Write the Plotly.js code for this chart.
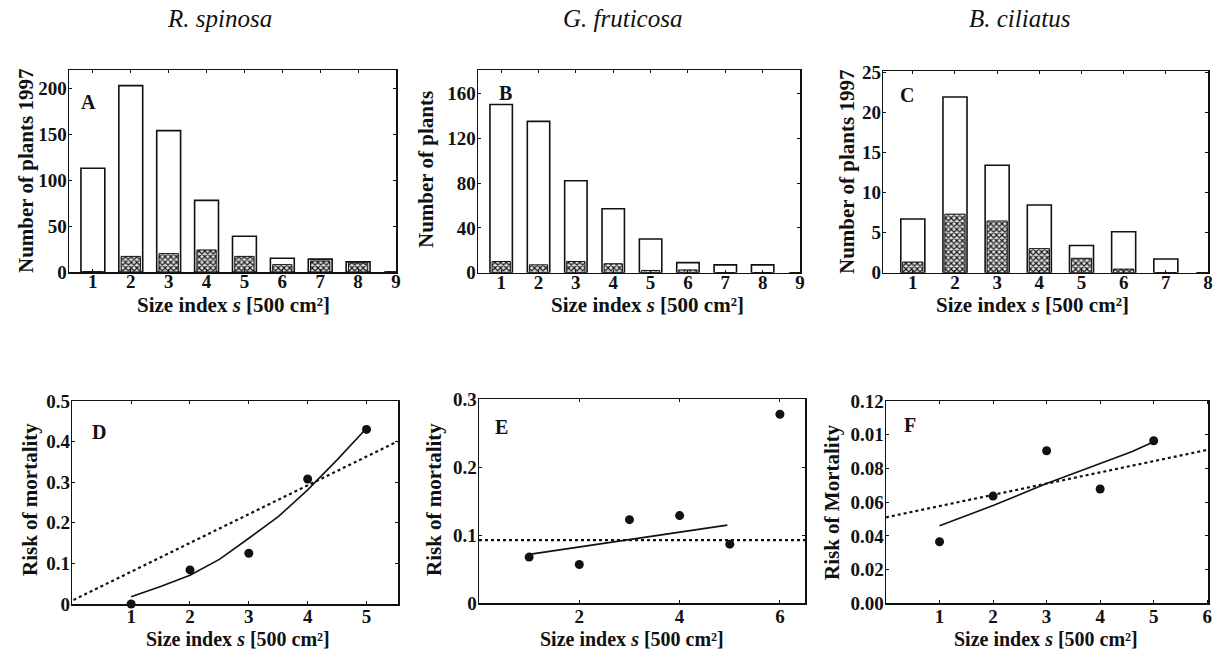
<!DOCTYPE html>
<html>
<head>
<meta charset="utf-8">
<script src="https://cdn.plot.ly/plotly-3.0.1.min.js"></script>
<style>html,body{margin:0;padding:0;background:#fff;} #chart{width:1221px;height:652px;}</style>
</head>
<body>
<div id="chart"></div>
<script>
// ---- Data ----
const sizeA = [1, 2, 3, 4, 5, 6, 7, 8, 9];
const totalA = [113, 203, 154, 78, 39, 15, 14, 11, 0];
const deadA = [0, 17, 20, 24, 17, 8, 12, 10, 0];

const sizeB = [1, 2, 3, 4, 5, 6, 7, 8, 9];
const totalB = [150, 135, 82, 57, 30, 9, 7, 7, 0];
const deadB = [10, 7, 10, 8, 2, 2.5, 0, 0, 0];

const sizeC = [1, 2, 3, 4, 5, 6, 7, 8];
const totalC = [6.7, 21.9, 13.4, 8.45, 3.4, 5.1, 1.7, 0];
const deadC = [1.33, 7.3, 6.45, 3.0, 1.8, 0.45, 0, 0];

const sizeD = [1, 2, 3, 4, 5];
const riskD = [0, 0.084, 0.125, 0.308, 0.43];
const fitDx = [1, 1.5, 2, 2.5, 3, 3.5, 4, 4.5, 5];
const fitDy = [0.018, 0.043, 0.071, 0.110, 0.162, 0.215, 0.281, 0.355, 0.433];
const linDx = [0.02, 5.52];
const linDy = [0.01, 0.40];

const sizeE = [1, 2, 3, 4, 5, 6];
const riskE = [0.068, 0.057, 0.123, 0.129, 0.087, 0.278];
const fitEx = [1, 4.95];
const fitEy = [0.072, 0.115];
const meanEx = [0, 6.5];
const meanEy = [0.093, 0.093];

const sizeF = [1, 2, 3, 4, 5];
const riskF = [0.0365, 0.0636, 0.0905, 0.0678, 0.0964];
const fitFx = [1, 2, 3, 4, 4.6, 5];
const fitFy = [0.046, 0.058, 0.071, 0.083, 0.090, 0.0958];
const linFx = [0, 6];
const linFy = [0.051, 0.091];

// tick labels
const xTicksAB = [1, 2, 3, 4, 5, 6, 7, 8, 9];
const xTicksC = [1, 2, 3, 4, 5, 6, 7, 8];
const xTicksD = [1, 2, 3, 4, 5];
const xTicksE = [2, 4, 6];
const xTicksF = [1, 2, 3, 4, 5, 6];
const yTicksA = [0, 50, 100, 150, 200];
const yTicksB = [0, 40, 80, 120, 160];
const yTicksC = [0, 5, 10, 15, 20, 25];
const yTicksD = [0, 0.1, 0.2, 0.3, 0.4, 0.5];
const yTicksE = [0, 0.1, 0.2, 0.3];
const yTicksF = [0, 0.02, 0.04, 0.06, 0.08, 0.10, 0.12];
const yTickTextF = ['0.00', '0.02', '0.04', '0.06', '0.08', '0.01', '0.12'];

const speciesTitles = ['R. spinosa', 'G. fruticosa', 'B. ciliatus'];
const panelLetters = ['A', 'B', 'C', 'D', 'E', 'F'];
const yTitles = ['Number of plants 1997', 'Number of plants', 'Number of plants 1997',
                 'Risk of mortality', 'Risk of mortality', 'Risk of Mortality'];
const xTitle = 'Size index <i>s</i> [500 cm²]';

// ---- Styling ----
const FONT = 'Liberation Serif, Times New Roman, serif';
const tickFont = {family: FONT, size: 19, color: '#111', weight: 'bold'};
const titleFont = {family: FONT, size: 21, color: '#111', weight: 'bold'};
const titleFontBottom = {family: FONT, size: 20, color: '#111', weight: 'bold'};

function openBar(x, y, xa, ya, w) {
  return {type: 'bar', x: x, y: y, xaxis: xa, yaxis: ya, width: w,
    marker: {color: 'white', line: {color: '#111', width: 1.6}},
    showlegend: false, hoverinfo: 'x+y'};
}
function deadBar(x, y, xa, ya, w) {
  return {type: 'bar', x: x, y: y, xaxis: xa, yaxis: ya, width: w,
    marker: {color: '#cfcfcf', line: {color: '#111', width: 1},
      pattern: {shape: 'x', size: 4, solidity: 0.5, fgcolor: '#1a1a1a', bgcolor: '#e0e0e0'}},
    showlegend: false, hoverinfo: 'x+y'};
}
function pts(x, y, xa, ya) {
  return {type: 'scatter', mode: 'markers', x: x, y: y, xaxis: xa, yaxis: ya,
    marker: {color: '#111', size: 9}, showlegend: false, cliponaxis: false};
}
function line(x, y, xa, ya, dash, w) {
  return {type: 'scatter', mode: 'lines', x: x, y: y, xaxis: xa, yaxis: ya,
    line: {color: '#111', width: w, dash: dash}, showlegend: false};
}

const data = [
  openBar(sizeA, totalA, 'x', 'y', 0.63), deadBar(sizeA, deadA, 'x', 'y', 0.51),
  openBar(sizeB, totalB, 'x2', 'y2', 0.6), deadBar(sizeB, deadB, 'x2', 'y2', 0.49),
  openBar(sizeC, totalC, 'x3', 'y3', 0.57), deadBar(sizeC, deadC, 'x3', 'y3', 0.48),
  line(linDx, linDy, 'x4', 'y4', 'dot', 2.2), line(fitDx, fitDy, 'x4', 'y4', 'solid', 1.6), pts(sizeD, riskD, 'x4', 'y4'),
  line(meanEx, meanEy, 'x5', 'y5', 'dot', 2.2), line(fitEx, fitEy, 'x5', 'y5', 'solid', 1.6), pts(sizeE, riskE, 'x5', 'y5'),
  line(linFx, linFy, 'x6', 'y6', 'dot', 2.2), line(fitFx, fitFy, 'x6', 'y6', 'solid', 1.6), pts(sizeF, riskF, 'x6', 'y6')
];

function ax(dom, range, ticks, anchor, standoff, ticktext) {
  const a = {domain: dom, range: range, anchor: anchor,
    tickmode: 'array', tickvals: ticks,
    showline: true, linecolor: '#111', linewidth: 1.5, mirror: 'ticks',
    ticks: 'inside', ticklen: 3, tickcolor: '#111', showgrid: false, zeroline: false,
    tickfont: tickFont, fixedrange: true, ticklabelstandoff: standoff};
  if (ticktext) a.ticktext = ticktext;
  return a;
}

const W = 1221, H = 652;
const px = (a, b) => [a / W, b / W];
const py = (top, bottom) => [1 - bottom / H, 1 - top / H];

const TOPX = -8, BOTX = -5, YS = -3;
const layout = {
  width: W, height: H,
  margin: {l: 0, r: 0, t: 0, b: 0},
  paper_bgcolor: 'white', plot_bgcolor: 'white',
  barmode: 'overlay', bargap: 0,
  font: {family: FONT, color: '#111'},
  xaxis: ax(px(69, 396), [0.37, 9], xTicksAB, 'y', TOPX),
  yaxis: ax(py(70, 272), [0, 220], yTicksA, 'x', YS),
  xaxis2: ax(px(478, 800), [0.38, 9], xTicksAB, 'y2', TOPX),
  yaxis2: ax(py(70, 272.7), [0, 180.8], yTicksB, 'x2', YS),
  xaxis3: ax(px(883.3, 1208), [0.3, 8], xTicksC, 'y3', TOPX),
  yaxis3: ax(py(71, 272.7), [0, 25.15], yTicksC, 'x3', YS),
  xaxis4: ax(px(72.3, 398.3), [0, 5.54], xTicksD, 'y4', BOTX),
  yaxis4: ax(py(401, 604), [0, 0.5], yTicksD, 'x4', YS),
  xaxis5: ax(px(479, 805), [0, 6.5], xTicksE, 'y5', BOTX),
  yaxis5: ax(py(399.3, 603.3), [0, 0.3], yTicksE, 'x5', YS),
  xaxis6: ax(px(886, 1208.3), [0, 6.02], xTicksF, 'y6', BOTX),
  yaxis6: ax(py(401, 603.3), [0, 0.12], yTicksF, 'x6', YS, yTickTextF),
  annotations: []
};

function note(text, x, y, font, extra) {
  layout.annotations.push(Object.assign({text: text, xref: 'paper', yref: 'paper',
    x: x / W, y: 1 - y / H, xanchor: 'center', yanchor: 'middle', showarrow: false, font: font}, extra || {}));
}

// species titles
const titleX = [219, 622, 1019];
speciesTitles.forEach((t, i) => note('<i>' + t + '</i>', titleX[i], 19, {family: FONT, size: 25, color: '#111'}));

// axis titles
const xTitlePosTop = [[233, 305], [647, 305], [1032, 305]];
xTitlePosTop.forEach(p => note(xTitle, p[0], p[1], titleFont));
const xTitlePosBottom = [[238, 638.5], [632, 638.5], [1046, 638.5]];
xTitlePosBottom.forEach(p => note(xTitle, p[0], p[1], titleFontBottom));
const yTitlePos = [[26, 171], [426, 170], [847, 172], [30, 500], [434, 500], [832, 502]];
yTitles.forEach((t, i) => note(t, yTitlePos[i][0], yTitlePos[i][1], titleFont, {textangle: -90}));

// panel letters
const letterPos = [[88, 101.7], [505, 92.7], [906.7, 95], [99, 431.7], [501.7, 426.7], [910, 425]];
panelLetters.forEach((t, i) => note(t, letterPos[i][0], letterPos[i][1],
  {family: FONT, size: 20, color: '#111', weight: 'bold'}));

Plotly.newPlot('chart', data, layout, {displayModeBar: false, staticPlot: true});
</script>
</body>
</html>
